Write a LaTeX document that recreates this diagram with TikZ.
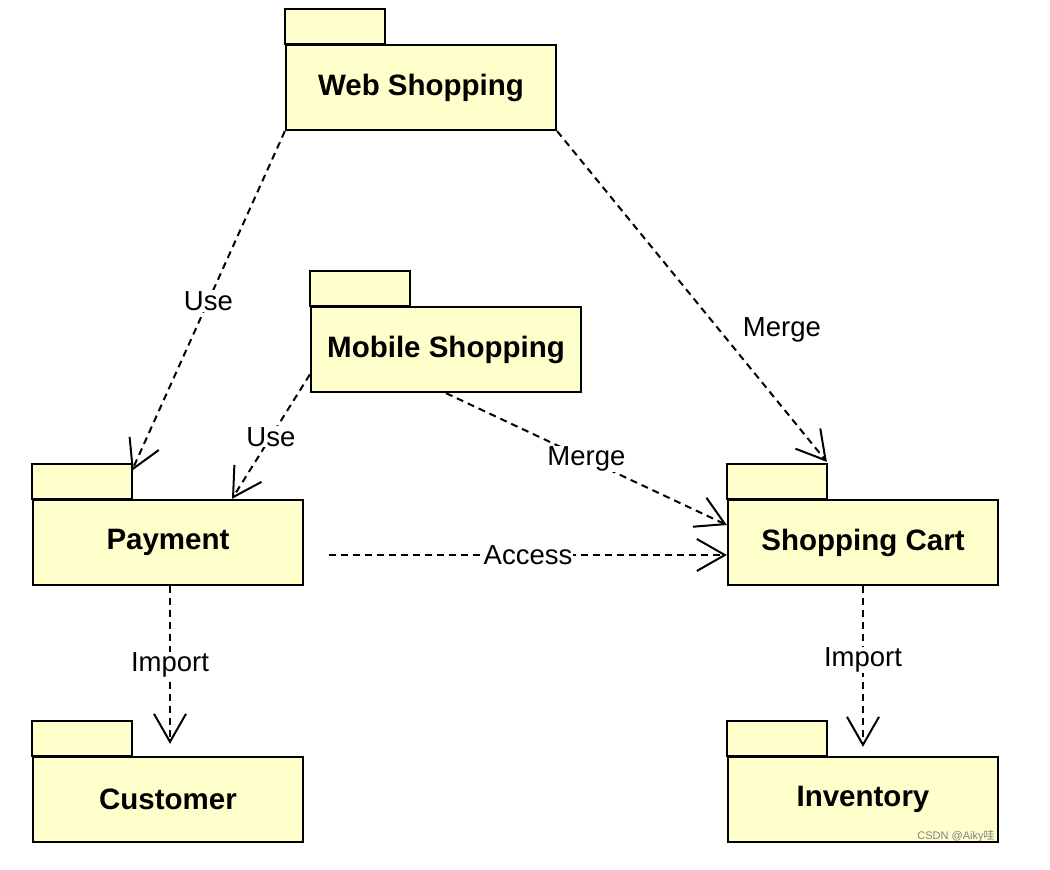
\documentclass[tikz,border=0pt]{standalone}
\usepackage{fontspec}
\setmainfont{Liberation Sans}
\newfontfamily\cjk{Noto Sans CJK SC}
\usetikzlibrary{positioning, arrows.meta}
\definecolor{PkgYellow}{RGB}{255, 255, 204}

\begin{document}
\begin{tikzpicture}[x=1pt, y=-1pt,
    pkg/.style={draw, line width=2.3pt, fill=PkgYellow, minimum width=270pt, minimum height=85pt,
      font=\fontsize{29.5}{34}\selectfont\bfseries},
    pkgtab/.style={draw, line width=2.3pt, fill=PkgYellow},
    dep/.style={line width=2pt, dash pattern=on 7pt off 5pt,
      -{Straight Barb[length=28pt, width=32pt]}},
    lbl/.style={font=\fontsize{27.5}{31}\selectfont, fill=white, inner sep=1pt}]
    \useasboundingbox (0,0) rectangle (1050,870);

    % Packages
    \node[pkg] (web) at (421,87.5) {Web Shopping};
    \node[pkg] (mobile) at (446,349.5) {Mobile Shopping};
    \node[pkg] (payment) at (168,542.5) {Payment};
    \node[pkg] (cart) at (863,542.5) {Shopping Cart};
    \node[pkg] (customer) at (168,799.5) {Customer};
    \node[pkg] (inventory) at (863,799.5) {Inventory};

    % Tabs
    \foreach \p in {web, mobile, payment, cart, customer, inventory}
      \draw[pkgtab] (\p.north west) rectangle ++(100,-35);

    % Dependencies
    \coordinate (payTab) at ([xshift=100pt, yshift=28pt]payment.north west);
    \draw[dep] (web.south west) -- node[lbl] {Use} (payTab);
    \coordinate (cartTab) at ([xshift=100pt, yshift=37pt]cart.north west);
    \draw[dep] (web.south east) -- node[lbl, fill=none, pos=0.6, right=22pt] {Merge} (cartTab);
    \draw[dep] ([yshift=-25pt]mobile.west) -- node[lbl] {Use} ([xshift=64pt]payment.north);
    \draw[dep] (mobile.south) -- node[lbl] {Merge} ([yshift=17.5pt]cart.west);
    \draw[dep] ([xshift=25pt, yshift=-12.5pt]payment.east) -- node[lbl] {Access} ([yshift=-12.5pt]cart.west);
    \draw[dep] ([xshift=2pt]payment.south) -- node[lbl, pos=0.5] {Import} ([xshift=2pt, yshift=12pt]customer.north);
    \draw[dep] (cart.south) -- node[lbl, pos=0.46] {Import} ([yshift=9pt]inventory.north);

    % Watermark
    \node[gray, font=\fontsize{11}{12}\selectfont, inner sep=0pt] (mark) at (956,836) {CSDN @Aiky\cjk 哇};
\end{tikzpicture}
\end{document}
